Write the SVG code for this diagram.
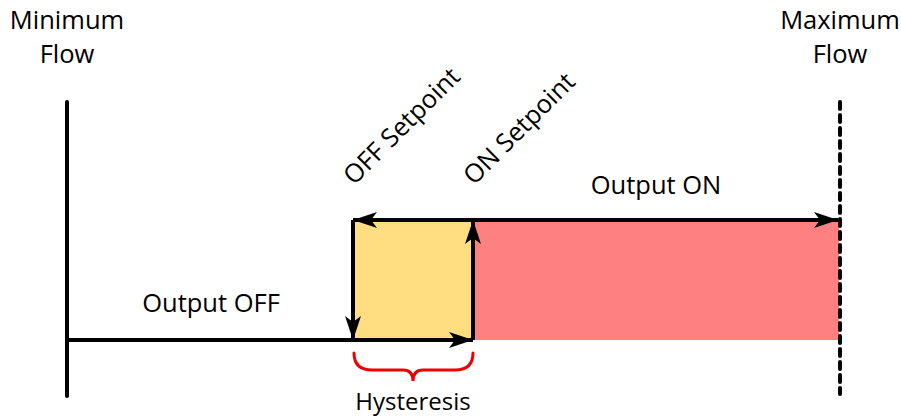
<svg xmlns="http://www.w3.org/2000/svg" width="901" height="419" viewBox="0 0 901 419">
<style>
text{font-family:"Open Sans","Noto Sans","Liberation Sans",sans-serif;font-size:25.5px;fill:#000}
.ln{stroke:#000;stroke-width:4;fill:none}
</style>
<defs>
<marker id="ah" viewBox="0 0 24 16" refX="24" refY="8" markerWidth="24" markerHeight="16" markerUnits="userSpaceOnUse" orient="auto-start-reverse">
<path d="M0,0 L24,8 L0,16 L6,8 Z" fill="#000"/>
</marker>
</defs>
<g id="regions">
<rect id="hyst-fill" x="353" y="220" width="120" height="120" fill="#FFDD80"/>
<rect id="on-fill" x="473" y="220" width="366" height="120" fill="#FF8080"/>
</g>
<g id="axes">
<line class="ln" x1="67" y1="102" x2="67" y2="396" stroke-linecap="round"/>
<line class="ln" x1="840" y1="102" x2="840" y2="394" stroke-linecap="round" stroke-dasharray="7 6"/>
</g>
<g id="connectors">
<line class="ln" x1="67" y1="340" x2="473" y2="340" marker-end="url(#ah)"/>
<line class="ln" x1="353" y1="220" x2="353" y2="340" marker-end="url(#ah)"/>
<line class="ln" x1="473" y1="340" x2="473" y2="220" marker-end="url(#ah)"/>
<line class="ln" x1="353" y1="220" x2="838" y2="220" marker-start="url(#ah)" marker-end="url(#ah)"/>
</g>
<g id="brace">
<path d="M354,353 Q354,370 372,370 L403,370 Q413,370 413,381 Q413,370 423,370 L455,370 Q473,370 473,353" fill="none" stroke="#E00" stroke-width="3" stroke-linecap="round"/>
</g>
<g id="labels">
<text x="67" y="29" text-anchor="middle">Minimum</text>
<text x="67" y="63" text-anchor="middle">Flow</text>
<text x="840" y="29" text-anchor="middle">Maximum</text>
<text x="840" y="63" text-anchor="middle">Flow</text>
<text x="211" y="312" text-anchor="middle">Output OFF</text>
<text x="656" y="194" text-anchor="middle">Output ON</text>
<text x="413" y="410" text-anchor="middle" style="font-size:24px">Hysteresis</text>
<text transform="translate(354,186) rotate(-45)">OFF Setpoint</text>
<text transform="translate(474,186) rotate(-45)">ON Setpoint</text>
</g>
</svg>
